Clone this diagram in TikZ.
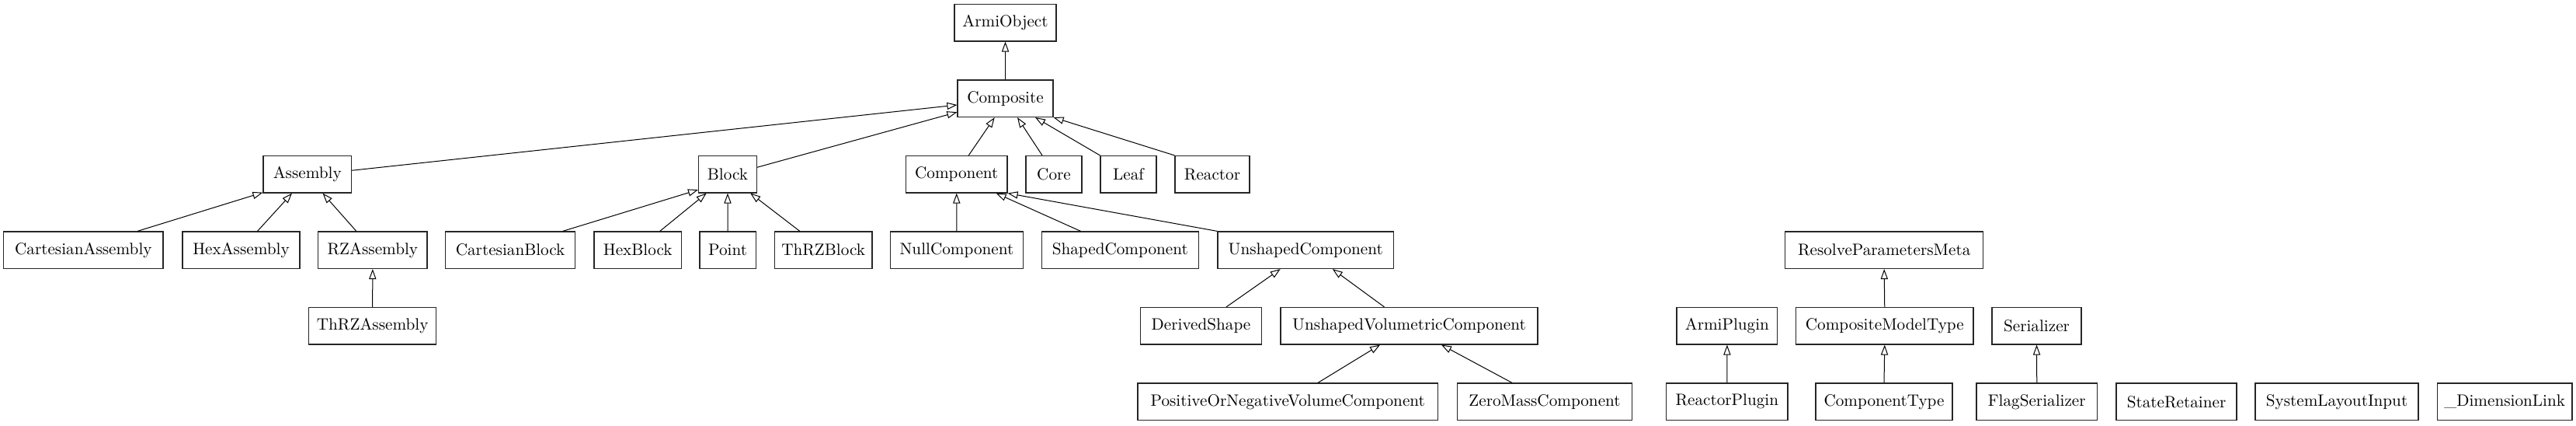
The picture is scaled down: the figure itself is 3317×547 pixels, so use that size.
\documentclass[tikz,border=0pt]{standalone}
\usetikzlibrary{arrows.meta,calc}
\begin{document}
\begin{tikzpicture}[x=0.5pt,y=-0.5pt,
  cls/.style={draw=black!85, line width=0.6pt, inner sep=0pt, minimum height=23.75pt,
    font=\fontsize{10.6}{12}\selectfont, fill=white},
  inh/.style={draw=black, line width=0.5pt, -{Triangle[open, length=6.5pt, width=4.6pt]}}]
\useasboundingbox (0,0) rectangle (3317,547);
% row 0
\node[cls, minimum width=65.5pt] (armi) at (1294.5,29.25) {ArmiObject};
% row 1
\node[cls, minimum width=61.5pt] (composite) at (1294.5,126.75) {Composite};
% row 2
\node[cls, minimum width=56.8pt] (assembly) at (395.8,224.25) {Assembly};
\node[cls, minimum width=37.35pt] (block) at (936.95,224.25) {Block};
\node[cls, minimum width=65.25pt] (component) at (1231.75,224.25) {Component};
\node[cls, minimum width=36pt] (core) at (1357,224.25) {Core};
\node[cls, minimum width=36pt] (leaf) at (1453,224.25) {Leaf};
\node[cls, minimum width=48pt] (reactor) at (1561,224.25) {Reactor};
% row 3
\node[cls, minimum width=102.65pt] (cartA) at (107.35,321.75) {CartesianAssembly};
\node[cls, minimum width=75.5pt] (hexA) at (310.5,321.75) {HexAssembly};
\node[cls, minimum width=70.15pt] (rzA) at (479.85,321.75) {RZAssembly};
\node[cls, minimum width=83.4pt] (cartB) at (657.1,321.75) {CartesianBlock};
\node[cls, minimum width=56.2pt] (hexB) at (821.2,321.75) {HexBlock};
\node[cls, minimum width=36.1pt] (point) at (937.1,321.75) {Point};
\node[cls, minimum width=62.85pt] (thrzB) at (1060.15,321.75) {ThRZBlock};
\node[cls, minimum width=85.4pt] (nullC) at (1231.9,321.75) {NullComponent};
\node[cls, minimum width=101.05pt] (shapedC) at (1442.25,321.75) {ShapedComponent};
\node[cls, minimum width=113.2pt] (unshapedC) at (1681.2,321.75) {UnshapedComponent};
\node[cls, minimum width=127.45pt] (resolve) at (2426.15,321.75) {ResolveParametersMeta};
% row 4
\node[cls, minimum width=81.95pt] (thrzA) at (479.65,419.25) {ThRZAssembly};
\node[cls, minimum width=78.2pt] (derived) at (1546.5,419.25) {DerivedShape};
\node[cls, minimum width=165.5pt] (uvc) at (1814.5,419.25) {UnshapedVolumetricComponent};
\node[cls, minimum width=64.9pt] (armiPlugin) at (2223.9,419.25) {ArmiPlugin};
\node[cls, minimum width=114.25pt] (cmt) at (2426.75,419.25) {CompositeModelType};
\node[cls, minimum width=57.5pt] (serializer) at (2622.5,419.25) {Serializer};
% row 5
\node[cls, minimum width=193.25pt] (ponvc) at (1658.25,516.75) {PositiveOrNegativeVolumeComponent};
\node[cls, minimum width=112.5pt] (zeroMass) at (1989,516.75) {ZeroMassComponent};
\node[cls, minimum width=78.2pt] (reactorPlugin) at (2223.8,516.75) {ReactorPlugin};
\node[cls, minimum width=88pt] (compType) at (2426,516.75) {ComponentType};
\node[cls, minimum width=77.75pt] (flagSer) at (2622.75,516.75) {FlagSerializer};
\node[cls, minimum width=77.5pt] (stateRet) at (2802.5,516.75) {StateRetainer};
\node[cls, minimum width=105pt] (sysLayout) at (3009,516.75) {SystemLayoutInput};
\node[cls, minimum width=86.8pt] (dimLink) at (3225.2,516.75) {\_DimensionLink};
% edges
\draw[inh] (composite.north) -- (armi.south);
\draw[inh] ($(component.north)+(15.5,0)$) -- ($(composite.south)+(-13.8,0)$);
\draw[inh] ($(core.north)+(-15,0)$) -- ($(composite.south)+(15.5,0)$);
\draw[inh] (leaf.north west) -- ($(composite.south)+(38.5,0)$);
\draw[inh] (reactor.north west) -- (composite.south east);
\draw[inh] ($(assembly.east)+(0,-5)$) -- ($(composite.west)+(0,8.25)$);
\draw[inh] ($(block.east)+(0,-9)$) -- ($(composite.west)+(0,17.5)$);
\draw[inh] ($(cartA.north)+(69.6,0)$) -- ($(assembly.south west)+(0,-1)$);
\draw[inh] ($(hexA.north)+(21,0)$) -- ($(assembly.south)+(-19.8,0)$);
\draw[inh] ($(rzA.north)+(-21,0)$) -- ($(assembly.south)+(19.7,0)$);
\draw[inh] (thrzA.north) -- (rzA.south);
\draw[inh] ($(cartB.north)+(67.5,0)$) -- ($(block.south west)+(0,-4.5)$);
\draw[inh] ($(hexB.north)+(28.5,0)$) -- ($(block.south)+(-27.3,0)$);
\draw[inh] (point.north) -- (block.south);
\draw[inh] ($(thrzB.north)+(-30.3,0)$) -- ($(block.south)+(29.3,0)$);
\draw[inh] (nullC.north) -- (component.south);
\draw[inh] ($(shapedC.north)+(-50.7,0)$) -- ($(component.south)+(50.9,0)$);
\draw[inh] (unshapedC.north west) -- (component.south east);
\draw[inh] ($(derived.north)+(32.5,0)$) -- ($(unshapedC.south)+(-32.5,0)$);
\draw[inh] ($(uvc.north)+(-32,0)$) -- ($(unshapedC.south)+(34.6,0)$);
\draw[inh] ($(ponvc.north)+(38.75,0)$) -- ($(uvc.south)+(-37.5,0)$);
\draw[inh] ($(zeroMass.north)+(-42,0)$) -- ($(uvc.south)+(41.5,0)$);
\draw[inh] (cmt.north) -- (resolve.south);
\draw[inh] (reactorPlugin.north) -- (armiPlugin.south);
\draw[inh] (compType.north) -- (cmt.south);
\draw[inh] (flagSer.north) -- (serializer.south);
\end{tikzpicture}
\end{document}
